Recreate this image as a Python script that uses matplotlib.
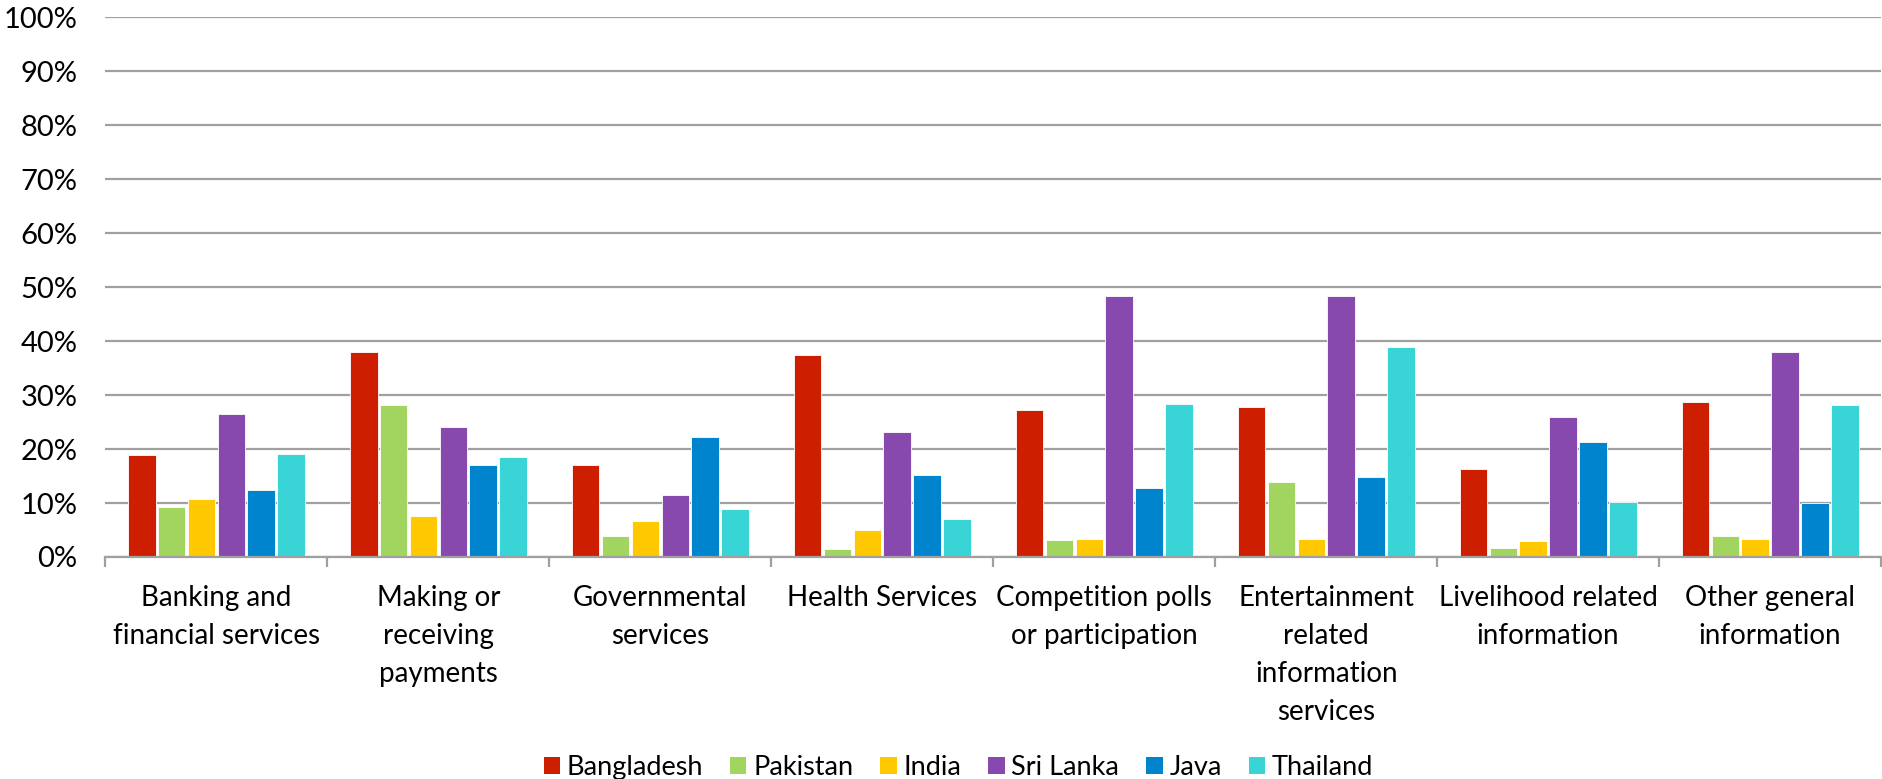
import matplotlib
matplotlib.use("Agg")
import matplotlib.pyplot as plt
import numpy as np
from matplotlib.patches import Patch
from matplotlib.ticker import FixedLocator, PercentFormatter

plt.rcParams['font.family'] = ['Lato', 'DejaVu Sans']

categories = [
    "Banking and\nfinancial services",
    "Making or\nreceiving\npayments",
    "Governmental\nservices",
    "Health Services",
    "Competition polls\nor participation",
    "Entertainment\nrelated\ninformation\nservices",
    "Livelihood related\ninformation",
    "Other general\ninformation",
]

countries = ["Bangladesh", "Pakistan", "India", "Sri Lanka", "Java", "Thailand"]

bangladesh = [18.8, 37.9, 17.1, 37.5, 27.3, 27.8, 16.3, 28.7]
pakistan   = [9.2, 28.1, 3.8, 1.4, 3.2, 13.8, 1.6, 3.8]
india      = [10.8, 7.5, 6.6, 5.0, 3.3, 3.3, 2.9, 3.3]
sri_lanka  = [26.5, 24.1, 11.4, 23.2, 48.4, 48.4, 26.0, 37.9]
java       = [12.5, 17.1, 22.3, 15.1, 12.7, 14.9, 21.3, 10.0]
thailand   = [19.0, 18.5, 8.8, 7.1, 28.4, 38.9, 10.1, 28.1]

series = [bangladesh, pakistan, india, sri_lanka, java, thailand]
colors = ["#CD1F00", "#A1D55F", "#FFC800", "#8749AE", "#0084CD", "#39D4D6"]

fig = plt.figure(figsize=(18.83, 7.79), dpi=100)
ax = fig.add_axes([0.056, 0.285, 0.943, 0.693])

x = np.arange(len(categories))
bar_w = 0.124
step = 0.1345
for i, (vals, col) in enumerate(zip(series, colors)):
    offs = (i - (len(series) - 1) / 2) * step
    ax.bar(x + offs, vals, width=bar_w, color=col, edgecolor="white",
           linewidth=0.6, zorder=3, label=countries[i])

ax.set_xlim(-0.5, len(categories) - 0.5)
ax.set_ylim(0, 100)
ax.yaxis.set_major_locator(FixedLocator(np.arange(0, 101, 10)))
ax.yaxis.set_major_formatter(PercentFormatter(decimals=0))
ax.grid(axis="y", color="#A0A0A0", linewidth=1.6, zorder=0)
ax.tick_params(axis="y", length=0, pad=20, labelsize=21)

# category boundaries carry the tick marks, centres carry the labels
ax.set_xticks(np.arange(-0.5, len(categories), 1.0))
ax.set_xticklabels([])
ax.set_xticks(x, minor=True)
ax.set_xticklabels(categories, minor=True, fontsize=20, linespacing=1.58,
                   va="top", ha="center")
ax.tick_params(axis="x", which="major", length=7, width=1.6, color="#A0A0A0")
ax.tick_params(axis="x", which="minor", length=0, pad=20)

for s in ["left", "right", "top"]:
    ax.spines[s].set_visible(False)
ax.spines["bottom"].set_color("#A0A0A0")
ax.spines["bottom"].set_linewidth(1.6)
ax.spines["bottom"].set_zorder(4)

handles = [Patch(facecolor=c, edgecolor="none", label=n) for c, n in zip(colors, countries)]
fig.legend(handles=handles, loc="lower center", bbox_to_anchor=(0.509, -0.033),
           ncol=6, frameon=False, fontsize=19.5, handlelength=0.6, handleheight=0.6,
           handletextpad=0.25, columnspacing=1.0)

fig.savefig("out.png", dpi=100)
